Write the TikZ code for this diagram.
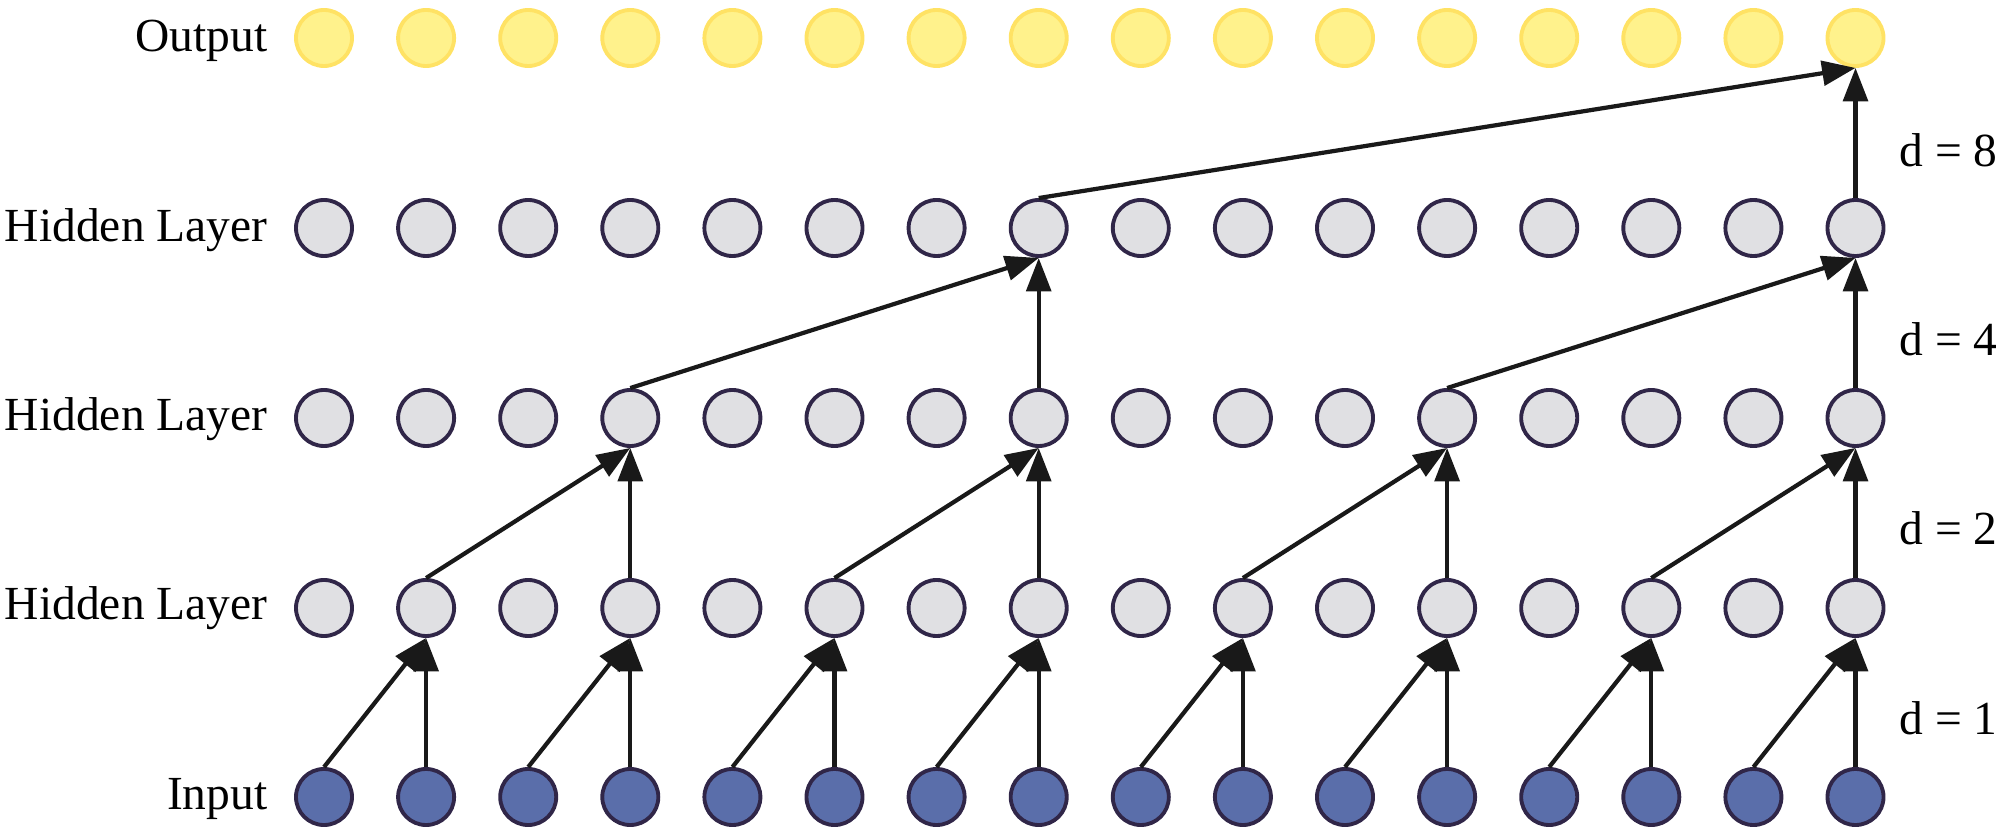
\documentclass[tikz,border=0pt]{standalone}
\usepackage{fontspec}
\setmainfont{Liberation Serif}
\usetikzlibrary{arrows.meta}
\definecolor{ofill}{RGB}{255,242,140}
\definecolor{oline}{RGB}{255,226,100}
\definecolor{hfill}{RGB}{224,224,227}
\definecolor{nline}{RGB}{48,38,72}
\definecolor{ifill}{RGB}{90,110,170}
\definecolor{aline}{RGB}{25,25,25}
\tikzset{
  neuron/.style={circle,minimum size=0.56cm,inner sep=0pt,line width=1.1pt},
  outn/.style={neuron,fill=ofill,draw=oline},
  hidn/.style={neuron,fill=hfill,draw=nline},
  inn/.style={neuron,fill=ifill,draw=nline},
  arr/.style={line width=1.2pt,draw=aline,-{Triangle[length=9.5pt,width=7pt]}},
  lbl/.style={font=\fontsize{13.5pt}{16pt}\selectfont,inner sep=0pt},
}
\begin{document}
\begin{tikzpicture}[x=0.01cm,y=-0.01cm]
\useasboundingbox (0,0) rectangle (2000,834);
\foreach \i in {1,...,16} {
  \node[outn] (o\i) at ({324+(\i-1)*102.1},38) {};
  \node[hidn] (hc\i) at ({324+(\i-1)*102.1},228) {};
  \node[hidn] (hb\i) at ({324+(\i-1)*102.1},418) {};
  \node[hidn] (ha\i) at ({324+(\i-1)*102.1},608) {};
  \node[inn] (in\i) at ({324+(\i-1)*102.1},797) {};
}
\node[lbl,anchor=base east] (lo) at (268,52) {Output};
\node[lbl,anchor=base east] (lc) at (268,242) {Hidden Layer};
\node[lbl,anchor=base east] (lb) at (268,431) {Hidden Layer};
\node[lbl,anchor=base east] (la) at (268,620) {Hidden Layer};
\node[lbl,anchor=base east] (li) at (268,809) {Input};
\node[lbl,anchor=west] (d8) at (1899,150) {d = 8};
\node[lbl,anchor=west] (d4) at (1899,339) {d = 4};
\node[lbl,anchor=west] (d2) at (1899,528) {d = 2};
\node[lbl,anchor=west] (d1) at (1899,718) {d = 1};
% d = 1
\foreach \j in {2,4,...,16} {
  \pgfmathtruncatemacro\p{\j-1}
  \draw[arr] (in\p.north) -- (ha\j.south);
  \draw[arr] (in\j.north) -- (ha\j.south);
}
% d = 2
\foreach \j in {4,8,12,16} {
  \pgfmathtruncatemacro\p{\j-2}
  \draw[arr] (ha\p.north) -- (hb\j.south);
  \draw[arr] (ha\j.north) -- (hb\j.south);
}
% d = 4
\foreach \j in {8,16} {
  \pgfmathtruncatemacro\p{\j-4}
  \draw[arr] (hb\p.north) -- (hc\j.south);
  \draw[arr] (hb\j.north) -- (hc\j.south);
}
% d = 8
\draw[arr] (hc8.north) -- (o16.south);
\draw[arr] (hc16.north) -- (o16.south);
\end{tikzpicture}
\end{document}
